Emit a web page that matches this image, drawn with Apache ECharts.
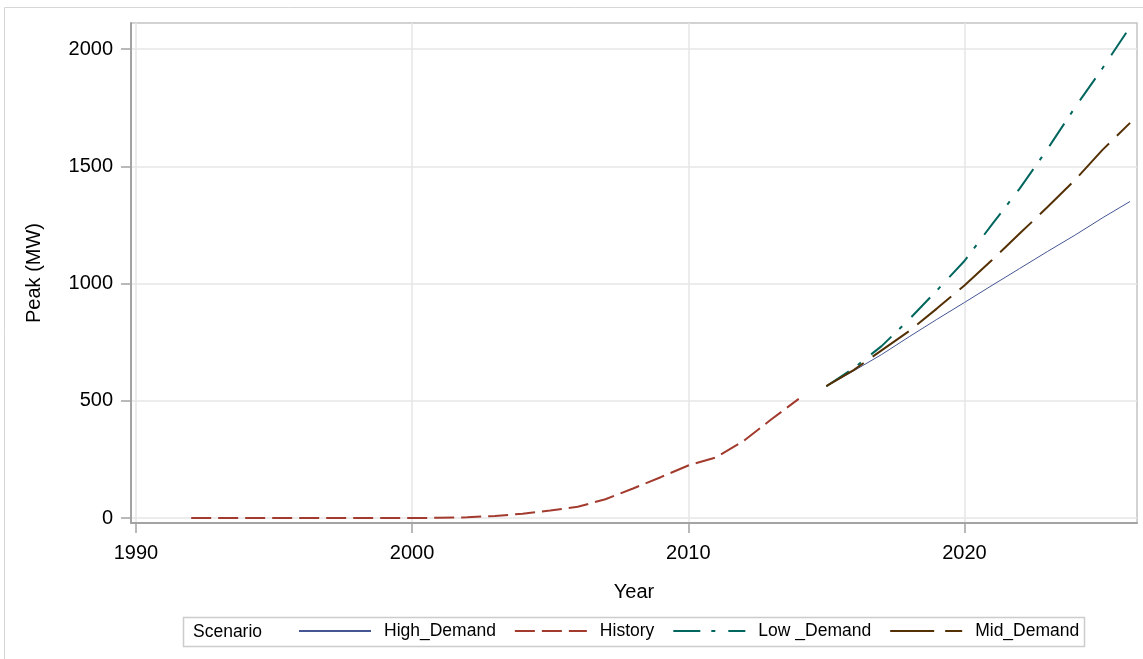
<!DOCTYPE html>
<html>
<head>
<meta charset="utf-8">
<script src="https://cdn.jsdelivr.net/npm/echarts@6/dist/echarts.min.js"></script>
<style>
  html, body { margin: 0; padding: 0; background: #fff; }
  #chart { width: 1143px; height: 659px; }
</style>
</head>
<body>
<div id="chart"></div>
<script>
// history and scenario values (MW)
const historyYears = [1992, 1993, 1994, 1995, 1996, 1997, 1998, 1999, 2000, 2001, 2002, 2003,
  2004, 2005, 2006, 2007, 2008, 2009, 2010, 2011, 2012, 2013, 2014];
const historyPeak = [0, 0, 0, 0, 0, 0, 0, 0, 0, 1, 3, 9,
  18, 32, 48, 80, 126, 174, 224, 258, 328, 420, 508];

const forecastYears = [2015, 2016, 2017, 2018, 2019, 2020, 2021, 2022, 2023, 2024, 2025, 2026];
const highDemand = [562, 628, 697, 773, 847, 919, 992, 1064, 1136, 1206, 1280, 1350];
const lowDemand = [562, 640, 733, 847, 970, 1096, 1252, 1405, 1572, 1750, 1918, 2094];
const midDemand = [562, 632, 715, 797, 893, 992, 1100, 1213, 1325, 1441, 1570, 1685];

const yearTicks = [1990, 2000, 2010, 2020];
const peakTicks = [0, 500, 1000, 1500, 2000];

const FONT = "'Liberation Sans', Arial, sans-serif";
const AXIS_GRAY = "#a3a3a3";
const GRID_GRAY = "#e6e6e6";

function pairs(xs, ys) {
  return xs.map((x, i) => [x, ys[i]]);
}

function lineSeries(name, xs, ys, color, width, dash) {
  return {
    name,
    type: "line",
    data: pairs(xs, ys),
    symbol: "none",
    lineStyle: { color, width, type: dash },
    itemStyle: { color },
  };
}

const chart = echarts.init(document.getElementById("chart"));

chart.setOption({
  animation: false,
  textStyle: { fontFamily: FONT },
  grid: { left: 131, right: 6, top: 23, bottom: 136, show: true, borderColor: "#c4c4c4", borderWidth: 1.5 },
  xAxis: {
    type: "value",
    min: 1989.82,
    max: 2026.25,
    name: "Year",
    nameLocation: "middle",
    nameGap: 59,
    nameTextStyle: { fontSize: 20, color: "#000", fontFamily: FONT },
    axisLine: { show: true, onZero: false, lineStyle: { color: AXIS_GRAY, width: 2 } },
    axisTick: { show: true, length: 10, customValues: yearTicks, lineStyle: { color: AXIS_GRAY, width: 1.5 } },
    axisLabel: { customValues: yearTicks, fontSize: 20, color: "#000", margin: 20, fontFamily: FONT, formatter: (v) => String(v) },
    splitLine: { show: true, lineStyle: { color: GRID_GRAY, width: 1.5 } },
  },
  yAxis: {
    type: "value",
    min: -21.3,
    max: 2111,
    name: "Peak (MW)",
    nameLocation: "middle",
    nameGap: 87,
    nameTextStyle: { fontSize: 20, color: "#000", fontFamily: FONT },
    axisLine: { show: true, onZero: false, lineStyle: { color: AXIS_GRAY, width: 2 } },
    axisTick: { show: true, length: 10, customValues: peakTicks, lineStyle: { color: AXIS_GRAY, width: 1.5 } },
    axisLabel: { customValues: peakTicks, fontSize: 20, color: "#000", margin: 18, fontFamily: FONT, formatter: (v) => String(v) },
    splitLine: { show: true, lineStyle: { color: GRID_GRAY, width: 1.5 } },
  },
  legend: {
    left: 298,
    top: 622,
    padding: 0,
    itemWidth: 72,
    itemHeight: 20,
    itemGap: 18,
    itemStyle: { opacity: 0 },
    textStyle: { fontSize: 17.5, color: "#000", fontFamily: FONT, padding: [0, 0, 0, 8] },
    data: ["High_Demand", "History", "Low _Demand", "Mid_Demand"],
  },
  graphic: [
    {
      type: "rect",
      shape: { x: 4.5, y: 7.5, width: 1200, height: 700 },
      style: { fill: "none", stroke: "#d6d6d6", lineWidth: 1 },
      silent: true,
    },
    {
      type: "rect",
      shape: { x: 183.5, y: 617.5, width: 901, height: 29 },
      style: { fill: "none", stroke: "#cccccc", lineWidth: 1.5 },
      silent: true,
    },
    {
      type: "text",
      left: 193,
      top: 622,
      style: { text: "Scenario", fontSize: 17.5, fill: "#000", fontFamily: FONT, lineHeight: 20 },
      silent: true,
    },
  ],
  series: [
    lineSeries("High_Demand", forecastYears, highDemand, "#445694", 1, "solid"),
    lineSeries("History", historyYears, historyPeak, "#A23A2E", 2, [20, 7]),
    lineSeries("Low _Demand", forecastYears, lowDemand, "#01665E", 2, [27, 11, 4, 13]),
    lineSeries("Mid_Demand", forecastYears, midDemand, "#543005", 2, [44, 11]),
  ],
});
</script>
</body>
</html>
